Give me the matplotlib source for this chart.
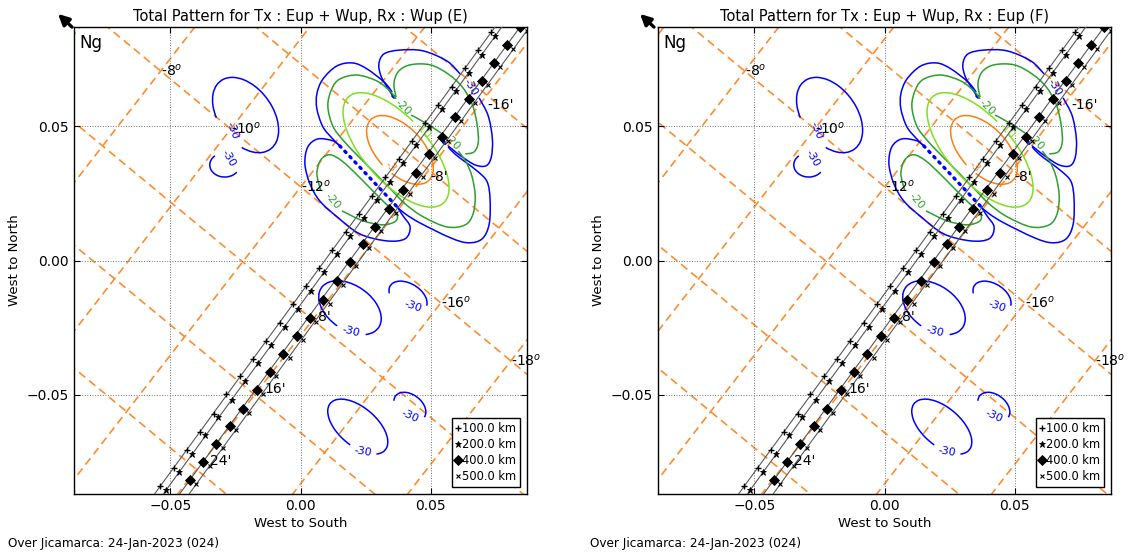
import numpy as np
import matplotlib
matplotlib.use("Agg")
import matplotlib.pyplot as plt
from matplotlib.patches import Arc, PathPatch, FancyArrowPatch
from matplotlib.path import Path
from matplotlib.lines import Line2D

# ---------------- data ----------------
titles = ["Total Pattern for Tx : Eup + Wup, Rx : Wup (E)",
          "Total Pattern for Tx : Eup + Wup, Rx : Eup (F)"]
footer = "Over Jicamarca: 24-Jan-2023 (024)"
ticks = [-0.05, 0.0, 0.05]
lims = (-0.087, 0.087)

# beam track markers (minutes -24 .. 26, step 2), four altitudes
x400 = [0.0844, 0.0792, 0.0743, 0.0696, 0.0646, 0.0593, 0.0542, 0.0493, 0.0444, 0.0395, 0.0341, 0.0286, 0.0239,
        0.0190, 0.0139, 0.0088, 0.0036, -0.0015, -0.0067, -0.0118, -0.0169, -0.0221, -0.0272, -0.0323, -0.0374, -0.0426]
y400 = [0.0871, 0.0804, 0.0735, 0.0668, 0.0602, 0.0534, 0.0461, 0.0397, 0.0327, 0.0261, 0.0192, 0.0125, 0.0060,
        -0.0006, -0.0078, -0.0147, -0.0215, -0.0283, -0.0348, -0.0417, -0.0484, -0.0552, -0.0617, -0.0685, -0.0751, -0.0819]
x500 = [0.0869, 0.0817, 0.0768, 0.0721, 0.0671, 0.0618, 0.0567, 0.0518, 0.0469, 0.0420, 0.0366, 0.0311, 0.0264,
        0.0215, 0.0164, 0.0113, 0.0061, 0.0010, -0.0042, -0.0093, -0.0144, -0.0196, -0.0247, -0.0298, -0.0349, -0.0401]
y500 = [0.0856, 0.0789, 0.0720, 0.0653, 0.0587, 0.0519, 0.0446, 0.0382, 0.0312, 0.0246, 0.0177, 0.0110, 0.0045,
        -0.0021, -0.0093, -0.0162, -0.0230, -0.0298, -0.0363, -0.0432, -0.0499, -0.0567, -0.0632, -0.0700, -0.0766, -0.0834]
x100 = [-0.0538, -0.0487, -0.0436, -0.0385, -0.0333, -0.0285, -0.0234, -0.0182, -0.0131, -0.0080, -0.0028, 0.0020, 0.0072,
        0.0122, 0.0173, 0.0224, 0.0275, 0.0326, 0.0377, 0.0428, 0.0478, 0.0529, 0.0580, 0.0631, 0.0682, 0.0733]
y100 = [-0.0840, -0.0773, -0.0707, -0.0639, -0.0571, -0.0499, -0.0432, -0.0366, -0.0300, -0.0233, -0.0161, -0.0095, -0.0028,
        0.0039, 0.0107, 0.0175, 0.0242, 0.0310, 0.0378, 0.0445, 0.0513, 0.0580, 0.0648, 0.0716, 0.0783, 0.0851]
x200 = [-0.0515, -0.0467, -0.0415, -0.0368, -0.0317, -0.0265, -0.0214, -0.0163, -0.0112, -0.0060, -0.0009, 0.0040, 0.0091,
        0.0141, 0.0192, 0.0242, 0.0293, 0.0343, 0.0394, 0.0444, 0.0495, 0.0545, 0.0596, 0.0647, 0.0697, 0.0747]
y200 = [-0.0854, -0.0788, -0.0720, -0.0652, -0.0583, -0.0518, -0.0449, -0.0382, -0.0314, -0.0246, -0.0180, -0.0112, -0.0043,
        0.0024, 0.0092, 0.0159, 0.0227, 0.0294, 0.0362, 0.0430, 0.0497, 0.0565, 0.0632, 0.0700, 0.0767, 0.0835]
legend_labels = ["100.0 km", "200.0 km", "400.0 km", "500.0 km"]

time_labels = ["-16'", "-8'", "8'", "16'", "24'"]
time_lx = [0.0716, 0.0497, 0.0067, -0.0138, -0.0349]
time_ly = [0.0580, 0.0312, -0.0210, -0.0478, -0.0746]

# geographic graticule (latitude lines and longitude lines)
grid_lats = [-6, -8, -10, -12, -14, -16, -18]
labelled_lats = [-8, -10, -12, -16, -18]
grid_lons = [-4, -3, -2, -1, 0, 1, 2]
grid_origin = (-0.0537, 0.0706)     # lat -8, lon step 0
lat_step = (0.0269, -0.0216)        # per 2 deg south
lon_step = (0.0223, 0.0279)         # per longitude line

# contour polylines (-30 dB blue, -20 dB green)
bne1_x = [0.0355, 0.0332, 0.0309, 0.0301, 0.0321, 0.0382, 0.0471, 0.0563, 0.0613]
bne1_y = [0.0613, 0.0647, 0.0688, 0.0732, 0.0770, 0.0784, 0.0781, 0.0743, 0.0695]
bne2_x = [0.0686, 0.0721, 0.0737, 0.0733, 0.0713, 0.0671, 0.0621, 0.0586, 0.0567]
bne2_y = [0.0606, 0.0539, 0.0453, 0.0386, 0.0353, 0.0356, 0.0386, 0.0412, 0.0427]
bnw_x = [0.0352, 0.0321, 0.0255, 0.0201, 0.0140, 0.0086, 0.0063, 0.0063, 0.0086, 0.0124, 0.0151]
bnw_y = [0.0628, 0.0665, 0.0714, 0.0736, 0.0725, 0.0676, 0.0621, 0.0565, 0.0498, 0.0453, 0.0427]
bsw_x = [0.0151, 0.0124, 0.0067, 0.0028, 0.0017, 0.0036, 0.0074, 0.0140, 0.0228, 0.0332, 0.0402, 0.0421, 0.0394, 0.0371]
bsw_y = [0.0427, 0.0446, 0.0453, 0.0423, 0.0360, 0.0286, 0.0222, 0.0163, 0.0099, 0.0073, 0.0081, 0.0125, 0.0166, 0.0200]
bse_x = [0.0371, 0.0402, 0.0459, 0.0575, 0.0644, 0.0698, 0.0725, 0.0728, 0.0717, 0.0683, 0.0633, 0.0593, 0.0567]
bse_y = [0.0200, 0.0174, 0.0140, 0.0085, 0.0066, 0.0081, 0.0137, 0.0230, 0.0293, 0.0330, 0.0367, 0.0397, 0.0423]
null_x = [0.0151, 0.0371]
null_y = [0.0427, 0.0200]
null2_x = [0.0355, 0.0372, 0.0550, 0.0567]
null2_y = [0.0613, 0.0598, 0.0440, 0.0427]

gne_x = [0.0367, 0.0359, 0.0375, 0.0421, 0.0498, 0.0567, 0.0621, 0.0659, 0.0678, 0.0683, 0.0667, 0.0633]
gne_y = [0.0609, 0.0658, 0.0703, 0.0729, 0.0729, 0.0695, 0.0647, 0.0583, 0.0509, 0.0442, 0.0405, 0.0397]
gma_x = [0.0425, 0.0479, 0.0540]
gma_y = [0.0542, 0.0513, 0.0475]
gmb_x = [0.0606, 0.0636, 0.0659, 0.0671, 0.0663, 0.0633, 0.0563, 0.0471, 0.0402, 0.0352, 0.0282, 0.0213, 0.0163,
         0.0124, 0.0105, 0.0120, 0.0151, 0.0217, 0.0293, 0.0343, 0.0367]
gmb_y = [0.0408, 0.0367, 0.0312, 0.0241, 0.0174, 0.0133, 0.0125, 0.0163, 0.0211, 0.0260, 0.0330, 0.0397, 0.0449,
         0.0501, 0.0576, 0.0639, 0.0676, 0.0691, 0.0669, 0.0632, 0.0602]
gsw_x = [0.0159, 0.0240, 0.0317, 0.0367, 0.0367, 0.0328, 0.0274, 0.0213, 0.0159, 0.0113, 0.0078, 0.0063, 0.0078]
gsw_y = [0.0185, 0.0148, 0.0133, 0.0148, 0.0178, 0.0211, 0.0263, 0.0323, 0.0371, 0.0394, 0.0375, 0.0323, 0.0260]

# elliptical contour pieces: centre x, centre y, width, height, angle, theta1, theta2, level
ell_cx = [0.0367, 0.0382, -0.0211, -0.0291, 0.0190, 0.0413, 0.0220, 0.0420]
ell_cy = [0.0412, 0.0412, 0.0542, 0.0356, -0.0176, -0.0135, -0.0619, -0.0545]
ell_w = [0.0538, 0.0318, 0.0318, 0.0115, 0.0265, 0.0159, 0.0273, 0.0136]
ell_h = [0.0242, 0.0174, 0.0205, 0.0090, 0.0167, 0.0098, 0.0144, 0.0091]
ell_ang = [-47, -45, -52, 0, -33, -30, -39, -35]
ell_t1 = [105, 295, -45, 138, -26, 5, -16, 0]
ell_t2 = [435, 625, 237, 330, 267, 200, 286, 195]
ell_lev = [-10, -3, -30, -30, -30, -30, -30, -30]

# contour labels
clab_text = ["-30", "-30", "-30", "-30", "-30", "-30", "-30", "-20", "-20", "-20", "-10", "-3"]
clab_x = [0.0652, -0.0260, -0.0276, 0.0194, 0.0432, 0.0240, 0.0420, 0.0124, 0.0394, 0.0582, 0.0468, 0.0345]
clab_y = [0.0647, 0.0483, 0.0379, -0.0265, -0.0169, -0.0712, -0.0578, 0.0222, 0.0572, 0.0442, 0.0486, 0.0350]
clab_rot = [-60, -70, -60, -15, -20, -10, -25, -50, -45, -45, -47, -45]
clab_lev = [-30, -30, -30, -30, -30, -30, -30, -20, -20, -20, -10, -3]

level_colors = {-30: "#0000ff", -20: "#2ca02c", -10: "#7fe01f", -3: "#ff7f0e"}
grid_orange = "#ff8c2e"

# ---------------- figure ----------------
fig = plt.figure(figsize=(11.28, 5.56), dpi=100)
ax_rects = [[74 / 1128, 62 / 556, 453 / 1128, 467 / 556],
            [658 / 1128, 62 / 556, 453 / 1128, 467 / 556]]


def graticule_point(lat, k):
    s = (-8 - lat) / 2.0
    return (grid_origin[0] + s * lat_step[0] + k * lon_step[0],
            grid_origin[1] + s * lat_step[1] + k * lon_step[1])


def smooth_curve(ax, xs, ys, **kw):
    """Draw a smooth curve through traced points (Catmull-Rom as cubic Bezier)."""
    pts = np.column_stack([xs, ys]).astype(float)
    n = len(pts)
    verts = [pts[0]]
    codes = [Path.MOVETO]
    for i in range(n - 1):
        p0 = pts[i - 1] if i > 0 else pts[i]
        p1 = pts[i]
        p2 = pts[i + 1]
        p3 = pts[i + 2] if i + 2 < n else pts[i + 1]
        verts += [p1 + (p2 - p0) / 6.0, p2 - (p3 - p1) / 6.0, p2]
        codes += [Path.CURVE4] * 3
    ax.add_patch(PathPatch(Path(verts, codes), fill=False, **kw))


def draw_panel(ax, title):
    ax.set_xlim(*lims)
    ax.set_ylim(*lims)
    ax.set_xticks(ticks)
    ax.set_yticks(ticks)
    ax.set_xticklabels(["\u22120.05", "0.00", "0.05"])
    ax.set_yticklabels(["\u22120.05", "0.00", "0.05"])
    ax.tick_params(direction="in", top=True, right=True, length=4, labelsize=10)
    ax.grid(True, color="0.45", linestyle=":", linewidth=0.7, zorder=0)
    ax.set_xlabel("West to South", fontsize=9.5, labelpad=3)
    ax.set_ylabel("West to North", fontsize=9.5)
    ax.set_title(title, fontsize=10.5, pad=4)
    for sp in ax.spines.values():
        sp.set_linewidth(1.0)

    # graticule
    for lat in grid_lats:
        p1 = graticule_point(lat, -7)
        p2 = graticule_point(lat, 5)
        ax.plot([p1[0], p2[0]], [p1[1], p2[1]], color=grid_orange, lw=1.2,
                dashes=(4.8, 3.0), zorder=1)
    for k in grid_lons:
        p1 = graticule_point(0, k)
        p2 = graticule_point(-26, k)
        ax.plot([p1[0], p2[0]], [p1[1], p2[1]], color=grid_orange, lw=1.2,
                dashes=(4.8, 3.0), zorder=1)
    for lat in labelled_lats:
        p = graticule_point(lat, 0)
        ax.text(p[0], p[1], "%d$^o$" % lat, fontsize=10, ha="left", va="center", zorder=6)

    # contours
    lw = 1.1
    c30 = level_colors[-30]
    c20 = level_colors[-20]
    for xs, ys in [(bne1_x, bne1_y), (bne2_x, bne2_y), (bnw_x, bnw_y), (bsw_x, bsw_y), (bse_x, bse_y)]:
        smooth_curve(ax, xs, ys, edgecolor=c30, lw=lw, zorder=3)
    ax.plot(null_x, null_y, color=c30, lw=2.4, linestyle=(0, (0.5, 1.7)),
            dash_capstyle="round", zorder=3)
    ax.plot(null2_x[:2], null2_y[:2], color=c30, lw=2.4, linestyle=(0, (0.5, 1.7)),
            dash_capstyle="round", zorder=3)
    ax.plot(null2_x[2:], null2_y[2:], color=c30, lw=2.4, linestyle=(0, (0.5, 1.7)),
            dash_capstyle="round", zorder=3)
    for xs, ys in [(gne_x, gne_y), (gma_x, gma_y), (gmb_x, gmb_y), (gsw_x, gsw_y)]:
        smooth_curve(ax, xs, ys, edgecolor=c20, lw=lw, zorder=3)
    for i in range(len(ell_cx)):
        ax.add_patch(Arc((ell_cx[i], ell_cy[i]), ell_w[i], ell_h[i], angle=ell_ang[i],
                         theta1=ell_t1[i], theta2=ell_t2[i],
                         color=level_colors[ell_lev[i]], lw=lw, zorder=3))
    for t, x, y, r, lv in zip(clab_text, clab_x, clab_y, clab_rot, clab_lev):
        ax.text(x, y, t, color=level_colors[lv], fontsize=8, rotation=r,
                ha="center", va="center", zorder=4)

    # beam tracks
    tracks = [(x100, y100, "+", 4.5, 1.0), (x200, y200, "*", 4.5, 0.6),
              (x400, y400, "D", 4.8, 0.6), (x500, y500, "x", 3.5, 0.8)]
    for xs, ys, m, ms, mew in tracks:
        ax.axline((xs[0], ys[0]), (xs[-1], ys[-1]), color="0.35", lw=0.8, zorder=4)
        ax.plot(xs, ys, ls="none", marker=m, ms=ms, color="k", mew=mew, zorder=5)
    for t, x, y in zip(time_labels, time_lx, time_ly):
        ax.text(x, y, t, fontsize=10, ha="left", va="center", zorder=6)

    ax.text(0.012, 0.985, "Ng", transform=ax.transAxes, fontsize=12, ha="left", va="top", zorder=7)

    handles = [Line2D([], [], ls="none", marker=m, ms=ms, mew=mew, color="k", label=l)
               for (xs, ys, m, ms, mew), l in zip(tracks, legend_labels)]
    leg = ax.legend(handles=handles, loc="lower right", fontsize=8.3, handlelength=0.4,
                    handletextpad=0.1, borderpad=0.35, labelspacing=0.26, fancybox=False,
                    framealpha=1, edgecolor="k", borderaxespad=0.6)
    leg.get_frame().set_linewidth(1.0)
    leg.set_zorder(8)


for rect, title, xoff in zip(ax_rects, titles, [0, 582]):
    ax = fig.add_axes(rect)
    draw_panel(ax, title)
    fig.text((8 + xoff) / 1128, 1 - 544 / 556, footer, fontsize=8.7, ha="left", va="center")
    fig.add_artist(FancyArrowPatch(
        ((74 + xoff) / 1128, 1 - 29 / 556), ((56 + xoff) / 1128, 1 - 12 / 556),
        transform=fig.transFigure, arrowstyle="-|>", mutation_scale=16, lw=2.4, color="k"))

fig.savefig("out.png", dpi=100)
